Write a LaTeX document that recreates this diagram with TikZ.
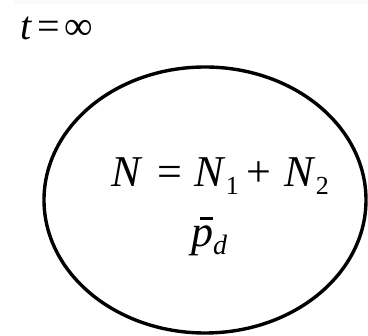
\documentclass[tikz,border=0pt]{standalone}
\usepackage{fontspec}
\setmainfont{Liberation Serif}
\begin{document}
\begin{tikzpicture}[x=1pt,y=-1pt,
  lbl/.style={inner sep=0pt,anchor=base west}]
\useasboundingbox (0,0) rectangle (368,336);
\fill[blue!2] (14,0) rectangle (368,4);
\node[lbl] (t) at (20,40) {\fontsize{40}{42}\selectfont\textit{t}\kern5pt=\kern5pt∞};
\draw[line width=3.4pt] (205,200) ellipse [x radius=161, y radius=133];
\node[lbl] (eq) at (111,187) {\fontsize{44}{46}\selectfont\textit{N}\kern15pt=\kern12pt\textit{N}\raisebox{-8pt}{\fontsize{26}{26}\selectfont 1}\kern8pt+\kern13pt\textit{N}\raisebox{-8pt}{\fontsize{26}{26}\selectfont 2}};
\node[lbl] (p) at (191,247) {\fontsize{44}{46}\selectfont\rlap{\kern9pt\raisebox{27pt}{\rule{13pt}{3pt}}}\textit{p}\raisebox{-8pt}{\fontsize{28}{28}\selectfont\textit{d}}};
\end{tikzpicture}
\end{document}
